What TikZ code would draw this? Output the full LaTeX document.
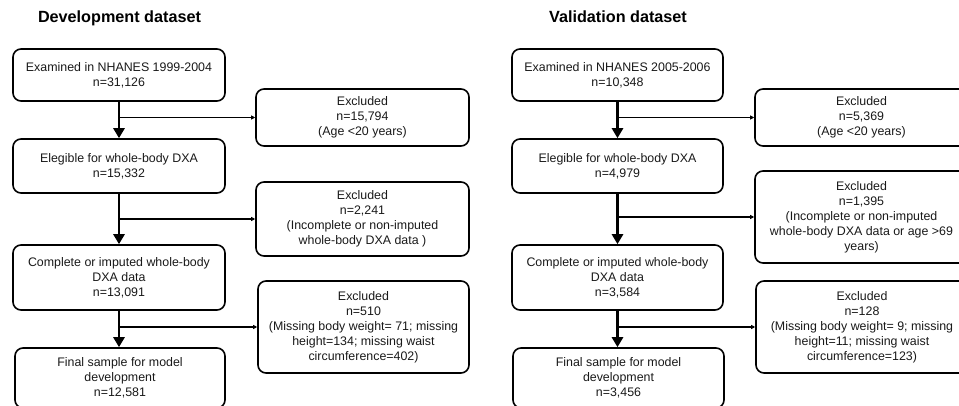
\documentclass[tikz,border=0pt]{standalone}
\usepackage{fontspec}
\setmainfont{Liberation Sans}
\usetikzlibrary{arrows.meta}
\begin{document}
\begin{tikzpicture}[x=1pt,y=-1pt,
  box/.style={draw=black,line width=1.6pt,rounded corners=8pt,align=center,
    inner sep=0pt,font=\fontsize{12.4}{15}\selectfont,text=black!90},
  title/.style={font=\fontsize{16.2}{18}\selectfont\bfseries,anchor=base,inner sep=0pt},
  mainarrow/.style={line width=2.6pt,-{Triangle[width=11pt,length=10pt]}},
  branch/.style={line width=1.3pt,-{Triangle[width=4pt,length=4pt]}}]
\useasboundingbox (0,0) rectangle (959,406);
% titles
\node[title] (t1) at (119.5,23) {Development dataset};
\node[title] (t2) at (618,23) {Validation dataset};
% left column
\node[box,minimum width=212pt,minimum height=52pt] (A1) at (119,75) {Examined in NHANES 1999-2004\\n=31,126};
\node[box,minimum width=213pt,minimum height=57pt] (E1) at (362.5,117.5) {Excluded\\n=15,794\\(Age <20 years)};
\node[box,minimum width=212pt,minimum height=54pt] (B1) at (119,166) {Elegible for whole-body DXA\\n=15,332};
\node[box,minimum width=213pt,minimum height=74pt] (E2) at (362.5,219) {Excluded\\n=2,241\\(Incomplete or non-imputed\\whole-body DXA data )};
\node[box,minimum width=212pt,minimum height=65pt] (C1) at (119,277.5) {Complete or imputed whole-body\\DXA data\\n=13,091};
\node[box,minimum width=211pt,minimum height=92pt] (E3) at (363.5,327) {Excluded\\n=510\\(Missing body weight= 71; missing\\height=134; missing waist\\circumference=402)};
\node[box,minimum width=210pt,minimum height=60pt] (D1) at (120,378) {Final sample for model\\development\\n=12,581};
% right column
\node[box,minimum width=211pt,minimum height=52pt] (A2) at (617.5,75) {Examined in NHANES 2005-2006\\n=10,348};
\node[box,minimum width=213pt,minimum height=57pt] (F1) at (861.5,117.5) {Excluded\\n=5,369\\(Age <20 years)};
\node[box,minimum width=211pt,minimum height=54pt] (B2) at (617.5,166) {Elegible for whole-body DXA\\n=4,979};
\node[box,minimum width=213pt,minimum height=92pt] (F2) at (861.5,217) {Excluded\\n=1,395\\(Incomplete or non-imputed\\whole-body DXA data or age >69\\years)};
\node[box,minimum width=211pt,minimum height=65pt] (C2) at (617.5,277.5) {Complete or imputed whole-body\\DXA data\\n=3,584};
\node[box,minimum width=212pt,minimum height=92pt] (F3) at (862,327) {Excluded\\n=128\\(Missing body weight= 9; missing\\height=11; missing waist\\circumference=123)};
\node[box,minimum width=211pt,minimum height=60pt] (D2) at (618.5,378) {Final sample for model\\development\\n=3,456};
% connectors left
\draw[mainarrow] (A1.south) -- (A1.south |- B1.north);
\draw[mainarrow] (B1.south) -- (B1.south |- C1.north);
\draw[mainarrow] (C1.south) -- (C1.south |- D1.north);
\draw[branch] (A1.south |- E1.west) -- (E1.west);
\draw[branch] (B1.south |- E2.west) -- (E2.west);
\draw[branch] (C1.south |- E3.west) -- (E3.west);
% connectors right
\draw[mainarrow] (A2.south) -- (A2.south |- B2.north);
\draw[mainarrow] (B2.south) -- (B2.south |- C2.north);
\draw[mainarrow] (C2.south) -- (C2.south |- D2.north);
\draw[branch] (A2.south |- F1.west) -- (F1.west);
\draw[branch] (B2.south |- F2.west) -- (F2.west);
\draw[branch] (C2.south |- F3.west) -- (F3.west);
\end{tikzpicture}
\end{document}
